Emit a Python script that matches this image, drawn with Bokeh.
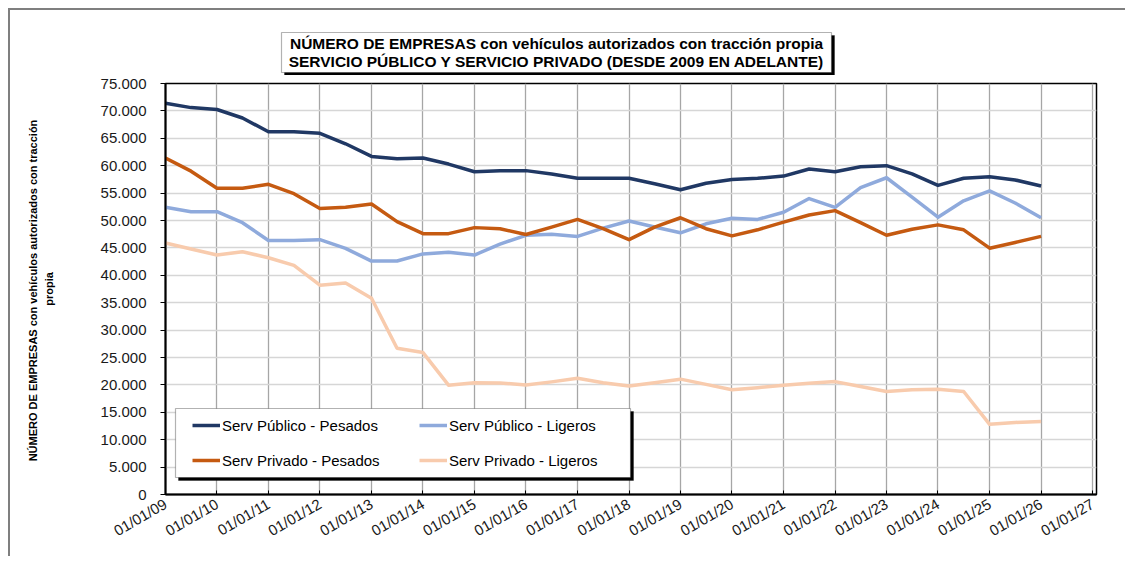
import math
import pandas as pd
from bokeh.plotting import figure
from bokeh.layouts import column
from bokeh.models import (Range1d, FixedTicker, DatetimeTickFormatter, Legend,
                          LegendItem, BoxAnnotation, Label)
from bokeh.embed import file_html
from bokeh.resources import INLINE

# ---------------- data ----------------
fechas = [
    "2009-01-01", "2009-07-01", "2010-01-01", "2010-07-01", "2011-01-01", "2011-07-01",
    "2012-01-01", "2012-07-01", "2013-01-01", "2013-07-01", "2014-01-01", "2014-07-01",
    "2015-01-01", "2015-07-01", "2016-01-01", "2016-07-01", "2017-01-01", "2017-07-01",
    "2018-01-01", "2018-07-01", "2019-01-01", "2019-07-01", "2020-01-01", "2020-07-01",
    "2021-01-01", "2021-07-01", "2022-01-01", "2022-07-01", "2023-01-01", "2023-07-01",
    "2024-01-01", "2024-07-01", "2025-01-01", "2025-07-01", "2026-01-01",
]

serv_publico_pesados = [
    71400, 70600, 70250, 68700, 66200, 66200, 65900, 64000, 61700, 61250, 61400, 60300,
    58900, 59100, 59100, 58500, 57700, 57700, 57700, 56700, 55600, 56800, 57500, 57700,
    58100, 59400, 58900, 59800, 60000, 58500, 56400, 57700, 58000, 57400, 56300,
]
serv_publico_ligeros = [
    52400, 51600, 51600, 49600, 46350, 46350, 46500, 44900, 42600, 42600, 43900, 44200,
    43700, 45700, 47300, 47500, 47100, 48600, 49900, 48800, 47750, 49400, 50400, 50200,
    51500, 54000, 52400, 56000, 57800, 54250, 50600, 53600, 55400, 53200, 50500,
]
serv_privado_pesados = [
    61400, 59000, 55900, 55900, 56600, 54900, 52200, 52400, 53000, 49800, 47600, 47600,
    48700, 48500, 47450, 48800, 50200, 48500, 46500, 48800, 50500, 48500, 47200, 48300,
    49700, 51000, 51800, 49600, 47300, 48400, 49200, 48300, 44950, 46000, 47100,
]
serv_privado_ligeros = [
    45900, 44800, 43700, 44300, 43200, 41800, 38200, 38600, 35800, 26700, 25900, 19950,
    20400, 20350, 20000, 20550, 21200, 20400, 19800, 20400, 21050, 20100, 19100, 19500,
    19950, 20300, 20600, 19700, 18800, 19100, 19200, 18800, 12800, 13150, 13300,
]

series_names = ["Serv Público - Pesados", "Serv Público - Ligeros",
                "Serv Privado - Pesados", "Serv Privado - Ligeros"]
series_colors = ["#203864", "#8FAADC", "#C55A11", "#F8CBAD"]

x_tick_years = list(range(2009, 2028))
y_ticks = list(range(0, 75001, 5000))
y_tick_labels = ["0", "5.000", "10.000", "15.000", "20.000", "25.000", "30.000", "35.000",
                 "40.000", "45.000", "50.000", "55.000", "60.000", "65.000", "70.000", "75.000"]

title_line1 = "NÚMERO DE EMPRESAS con vehículos autorizados con tracción propia"
title_line2 = "SERVICIO PÚBLICO Y SERVICIO PRIVADO (DESDE 2009 EN ADELANTE)"
y_title = "NÚMERO DE EMPRESAS  con vehículos autorizados con tracción\npropia"

FONT = "Liberation Sans"
FRAME_GREY = "#7f7f7f"
FRAME_LEFT = 165      # page x of plot-area left edge (frames of both figures align)
STRIP_BOTTOM = 77     # page y of the title strip's frame bottom
ELEM_W = 1117


def screen_box(**kw):
    return BoxAnnotation(left_units="screen", right_units="screen",
                         top_units="screen", bottom_units="screen", **kw)


def sx(page_x):
    return page_x - FRAME_LEFT


def sy(page_y):
    return STRIP_BOTTOM - page_y


border_css = {"border-left": f"2px solid {FRAME_GREY}", "margin-left": "8px"}

# ---------------- title strip ----------------
t = figure(width=ELEM_W, height=67, x_range=Range1d(0, 1), y_range=Range1d(0, 1),
           x_axis_location=None, y_axis_location=None,
           output_backend="svg", toolbar_location=None,
           min_border_left=155, min_border_right=31, min_border_top=0, min_border_bottom=0,
           styles={**border_css, "border-top": f"2px solid {FRAME_GREY}",
                   "margin-top": "8px"})
t.outline_line_color = None
t.grid.visible = False
t.background_fill_color = "white"
t.border_fill_color = "white"
# title box with shadow
t.add_layout(screen_box(left=sx(284), right=sx(834), top=sy(35), bottom=sy(75.5),
                        fill_color="black", fill_alpha=1, line_color="black"))
t.add_layout(screen_box(left=sx(281), right=sx(831), top=sy(32), bottom=sy(72),
                        fill_color="white", fill_alpha=1, line_color="black",
                        line_width=1.2))
for txt, yy in ((title_line1, 43), (title_line2, 61)):
    t.add_layout(Label(x=sx(556), y=sy(yy), x_units="screen", y_units="screen", text=txt,
                       text_align="center", text_baseline="middle",
                       text_font=FONT, text_font_size="15.5px",
                       text_font_style="bold", text_color="black"))

# ---------------- main chart ----------------
x = pd.to_datetime(fechas)
x_start = pd.Timestamp("2009-01-01")
x_end = pd.Timestamp("2027-01-29")

p = figure(width=ELEM_W, height=481, x_axis_type="datetime",
           x_range=Range1d(x_start, x_end), y_range=Range1d(0, 75000),
           output_backend="svg", toolbar_location=None,
           min_border_left=155, min_border_top=8, min_border_right=31,
           min_border_bottom=62, styles=border_css)
p.background_fill_color = "white"
p.border_fill_color = "white"
p.outline_line_color = "black"
p.outline_line_width = 1.5

x_ticks_ms = [pd.Timestamp(f"{yr}-01-01").value // 10**6 for yr in x_tick_years]
p.xaxis.ticker = FixedTicker(ticks=x_ticks_ms)
fmt = "%d/%m/%y"
p.xaxis.formatter = DatetimeTickFormatter(days=fmt, months=fmt, years=fmt)
p.xaxis.major_label_orientation = math.pi / 6
p.xaxis.major_label_text_font = FONT
p.xaxis.major_label_text_font_size = "15px"
p.xaxis.major_label_text_color = "#1a1a1a"
p.xaxis.major_label_standoff = 8
p.xaxis.major_tick_in = 4
p.xaxis.major_tick_out = 0
p.xaxis.minor_tick_line_color = None

p.yaxis.ticker = FixedTicker(ticks=y_ticks)
p.yaxis.major_label_overrides = {tk: lab for tk, lab in zip(y_ticks, y_tick_labels)}
p.yaxis.major_label_text_font = FONT
p.yaxis.major_label_text_font_size = "15px"
p.yaxis.major_label_text_color = "#1a1a1a"
p.yaxis.major_label_standoff = 14
p.yaxis.major_tick_in = 0
p.yaxis.major_tick_out = 5
p.yaxis.minor_tick_line_color = None
p.yaxis.axis_label = y_title
p.yaxis.axis_label_text_font = FONT
p.yaxis.axis_label_text_font_size = "11px"
p.yaxis.axis_label_text_font_style = "bold"
p.yaxis.axis_label_text_color = "black"
p.yaxis.axis_label_text_line_height = 1.3
p.yaxis.axis_label_standoff = 43

for ax in (p.xaxis, p.yaxis):
    ax.axis_line_color = "black"
    ax.axis_line_width = 2
    ax.major_tick_line_color = "black"
    ax.major_tick_line_width = 1

p.xgrid.grid_line_color = "#a6a6a6"
p.xgrid.grid_line_width = 1.3
p.ygrid.grid_line_color = "#d6d6d6"
p.ygrid.grid_line_width = 1.5

renderers = []
for vals, col in zip([serv_publico_pesados, serv_publico_ligeros,
                      serv_privado_pesados, serv_privado_ligeros], series_colors):
    r = p.line(x, vals, line_color=col, line_width=3.5, line_join="round")
    renderers.append(r)

# legend box with shadow
p.add_layout(screen_box(left=13, right=468, top=83, bottom=14,
                        fill_color="black", fill_alpha=1, line_color="black"))
p.add_layout(screen_box(left=10, right=465, top=86, bottom=17,
                        fill_color="white", fill_alpha=1, line_color="black",
                        line_width=1.2))

for idxs, lx in (((0, 2), 27), ((1, 3), 254)):
    items = [LegendItem(label=series_names[i], renderers=[renderers[i]]) for i in idxs]
    leg = Legend(items=items, location=(lx, 24), orientation="vertical",
                 padding=0, margin=0, spacing=15, glyph_width=28, glyph_height=20,
                 label_height=20, label_standoff=2,
                 label_text_font=FONT, label_text_font_size="15px",
                 label_text_color="black",
                 border_line_alpha=0, background_fill_alpha=0)
    p.add_layout(leg)

layout = column(t, p, spacing=0)
open("out.html", "w").write(file_html(layout, INLINE))
